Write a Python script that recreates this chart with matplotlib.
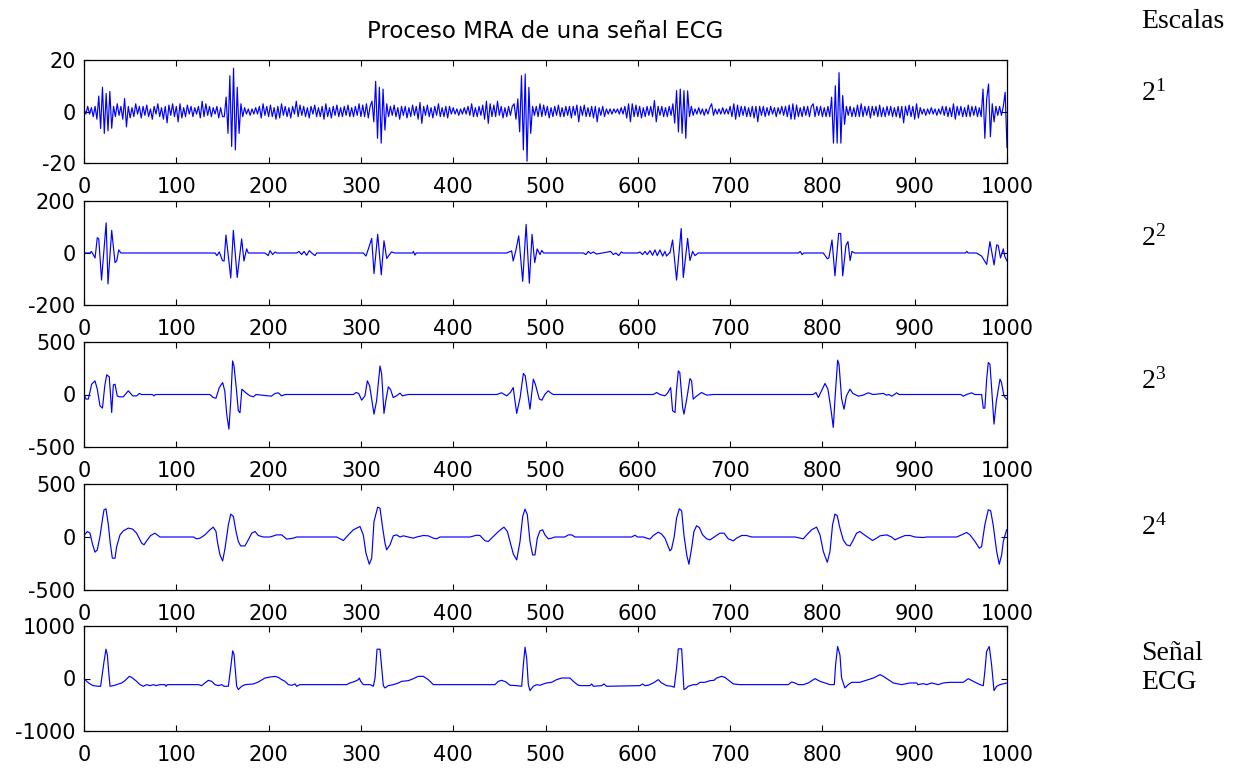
import numpy as np
import matplotlib
matplotlib.use("Agg")
import matplotlib.pyplot as plt

# ---------------------------------------------------------------
# Detail coefficients, scale 2^1 (one value every 2 samples)
# ---------------------------------------------------------------
d1_step = 2
d1_y = [
    1, -1, 2, -1, 1.5, -2, 2, -3, 6, -6.6, 9.4, -8.5, 7, -7.5, 7.8, -6.5, 2, -2, 3, -1.5,
    2, -3, 5, -6, 2, -2.5, 1.5, -2, 3, -1, 2, -2.5, 2, -1.5, 2.5, -2, 1, -3, 2, -1,
    3, -2, 1.5, -3, 2, -4.4, 2.5, -1.5, 3, -2, 2, -4, 3, -2.5, 1.5, -2, 2.5, -1, 2, -2,
    1.5, -1, 2, -2.5, 4, -2, 3, -1.5, 2, -2, 1.5, -1, 2, -2.5, 1.5, -2, -2, 5.6, -8.5, 13.9,
    -13.6, 16.8, -14.9, 9.4, -8.5, 3, -2, 1.5, -1, 1, -1.5, 1, -1, 1.5, -1, 2, -2.5, 3, -1.5, 2,
    -2, 2.5, -2, 1.5, -3, 2, -2.5, 3, -1.5, 2, -2, 1.5, -2.5, 2, -1, 4, -2, 2.5, -1.5, 2,
    -2, 1.5, -2.5, 2, -1, 2.5, -2, 1.5, -2, 2, -3, 3, -2, 1.5, -2.5, 2, -1.5, 2.5, -2, 1.5,
    -2, 2, -1.5, 2.5, -2, 1.5, -2, 2, -1.5, 3, -2, 2.5, -2, 3, -2.5, 2, 4, -4, 11.7, -10.4,
    9.4, -12.3, 8.7, -7.2, 3, -2, 2, -1.5, 2.5, -2, 1.5, -3, 2, -1.5, 2, -2.5, 1.5, -2, 2.5, -1.5,
    2, -3, 3.5, -4.6, 2, -1.5, 2.5, -2, 1.5, -2.5, 2, -1.5, 3, -2, 1.5, -2, 2, -2.5, 2, -1,
    1.5, -1, 1, -1.5, 1, -1, 1.5, -1, 2, -1.5, 3, -2, 1.5, -2, 2, -1.5, 2.5, -3, 4, -4.6,
    3, -2, 2.5, -2, 4, -1.5, 2, -2.5, 1.5, -2, 2, -1.5, 2, 3, -3, 4.9, -7.9, 13.9, -14.9, 14.5,
    -19.3, 9.4, -8.5, 2, -1.5, 2, -2, 3, -2, 2.5, -1.5, 2, -2.5, 1.5, -2, 2, -1.5, 2.5, -2, 1.5,
    -2, 2, -1.5, 2, -2.5, 2, -1.5, 2.5, -4, 2, -1.5, 2.5, -2, 1.5, -2, 2, -2.5, 2, -4, 1.5,
    -1.5, 2, -2, 1, -1, 1, -1, 1, -0.5, 1, -1, 1.5, -1, 2, -2.5, 3, -4, 3, -2, 2.5,
    -2, 2, -2.5, 1.5, -2, 2, -1.5, 2, -2, 4.3, -4, 2, -1.5, 2, -2, 1.5, -2, 2, -1.5, 3,
    -4.5, 8.1, -7.9, 8.7, -8.5, 8.1, -10.4, 8, -2, 2, -1.5, 1, -1, 1.5, -1, 1, -1.5, 1, -1, 1.5,
    3, -1.5, 1, -1, 1, -1, 1.5, -1, 1, -1, 2, -2, 3, -3, 2.5, -2, 2, -1.5, 2, -2,
    1.5, -2, 2, -2.5, 2, -4, 2, -1.5, 2, -2, 1.5, -1.5, 2, -1, 1.5, -2, 1.5, -1, 2, -1.5,
    2, -2, 2.5, -3, 3, -3, 2.5, -2, 1.5, -2, 2, -1.5, 2, -2, 2, 3, -2, 2, -1.5, 2,
    -2, 1.5, -2, 2, -2, 5.6, -12.3, 10, -12.3, 15.1, -12.3, 6.2, -5, 2, -1.5, 2, -2, 1.5, -2, 2.5,
    -2, 3, -2, 2, -1.5, 2, -2.5, 2, -1.5, 2, -2, 2.5, -2, 1.5, -2, 2, -1.5, 2, -2, 1.5,
    -2, 2, -2.5, 2, -4.4, 2, -1.5, 2.5, -2, 2, -3, 3, -2.5, 1.5, -1, 1, -1.5, 1, -1, 1.5,
    -1, 1, -1.5, 1, -1, 2, -1.5, 2, -2, 1.5, -2, 3, -3, 2, -1.5, 2, -2, 1.5, -2, 2.5,
    -2, 2, -1.5, 2, -2, 1.5, -2, 8.7, -10.4, 5, 10.7, -9.8, 3, -4, 2, -1.5, 2, -1.5, 2, 7.5,
    -14,
]
d1_x = np.arange(len(d1_y)) * d1_step

# ---------------------------------------------------------------
# Detail coefficients, scale 2^2
# ---------------------------------------------------------------
d2_x = [0, 6.5, 8, 10, 12, 14.4, 16, 19, 24, 26, 30, 33.6, 35.5, 37.6, 40,
        142, 144, 146.6, 150, 151.8, 153.8, 159, 161.8, 166, 170.8, 173.3, 176.2, 178,
        196, 199.7, 201.5, 204.4, 207, 209,
        230.4, 233, 235.8, 238.4, 241.2, 244.1, 247.4, 250.3, 252,
        302.6, 305.5, 308.4, 311.7, 314.2, 318.2, 322.1, 325, 328, 331.5, 333, 337,
        356, 357, 358.5, 360,
        458, 463.3, 465, 468, 471, 475.3, 479, 482.5, 485.4, 488.3, 491, 494, 496, 498,
        541, 543.8, 546.4, 549, 551.8, 555.4, 568, 570.6, 573.5, 576.3, 579.2, 582.1, 584.3,
        600, 602.3, 605.2, 607.8, 610.3, 613.2, 616, 618.6, 621.1, 624, 626.9, 629.4, 631.2, 634.1,
        634.8, 637.7, 642, 647, 649.3, 654, 656.5, 659.4, 662, 665.5,
        774, 776, 778, 780,
        801, 805.3, 807, 810.4, 813.6, 817.6, 819.8, 822, 825.5, 827.7, 830, 832, 835,
        955, 956.5, 958,
        967, 972.5, 978, 981.5, 986, 988.8, 990.5, 993, 996, 997.5, 1000]
d2_y = [0, 0, 6, -6, -19, 59, 54, -104, 116, -119, 87, -37, -30, 12, 0,
        0, -10, 4, -29, -31, 69, -96, 87, -94, 54, -31, 16, 0,
        0, -10, 9, -6, 4, 0,
        0, 6, -6, 6, -9, 9, -2, -10, 0,
        0, -12, 19, 56, -79, 72, -84, 47, -21, -4, 4, 0,
        0, 6, -8, 0,
        0, 8, -31, 12, 66, -109, 110, -116, 72, -37, 16, -6, 10, 0,
        0, -6, 6, -2, 4, -4, 4, 6, -6, 0, -10, 4, 0,
        0, 4, -6, 6, -6, 9, -9, 12, -10, 12, -12, 6, -12, 0,
        0, 50, -104, 94, -94, 56, -29, 6, -10, 0,
        0, 6, -6, 0,
        0, -22, -19, 50, -88, 75, 75, -88, 29, 44, -29, 6, 0,
        0, 6, 0,
        0, -12, -44, 44, -46, 31, 29, -19, 16, -12, -31]

# ---------------------------------------------------------------
# Detail coefficients, scale 2^3
# ---------------------------------------------------------------
d3_x = [0, 2.2, 4.7, 8.3, 11.9, 14.4, 17.3, 20, 22.5, 24.6, 27.4, 30, 31.8, 33.6, 36, 38.3,
        42.6, 48, 52.7, 57, 60, 62.5, 74, 75.8, 77.5,
        136.5, 140, 143, 146.6, 150.2, 152.5, 154.6, 157, 159, 161, 162.5, 165, 167.2, 169,
        171, 173, 176.2, 180, 183.5, 186.4, 203, 207, 210.5, 214, 217.8,
        291.8, 294.7, 297.6, 300.8, 304.4, 307, 309.5, 314.2, 317, 320.7, 322.5, 325, 327,
        329.7, 332, 335, 338.5, 342.4, 345, 348, 351.4,
        447, 452.5, 458, 462, 465, 468.8, 472.5, 476, 478, 483.2, 486.8, 489, 493.3, 496,
        499.5, 503, 505.5, 508.4,
        616.8, 620.4, 624, 629.4, 632, 635.6, 637.7, 640.3, 642, 643.9, 645.5, 648.6, 650,
        653, 656.5, 658.3, 660, 664, 669, 674.6, 678, 681.8,
        790, 793, 795.6, 799, 802.8, 806, 809, 811.8, 813.5, 816.5, 818, 820.8, 823.4, 826,
        829.9, 833, 839, 844, 849.7, 855, 866, 869.6, 872, 875, 878, 880.4, 883,
        950, 952.6, 956.3, 961.7, 965, 972.5, 974.3, 976, 978, 979.7, 981.5, 983.5, 985.9,
        988.5, 992.4, 994, 996.7, 999.6, 1000]
d3_y = [0, -44, -44, 98, 130, 50, -108, -130, 82, 187, 168, -171, 92, 98, -13, -22,
        -22, 35, -13, -13, 10, 0, 0, -13, 0,
        0, -29, -35, 66, 114, 35, -186, -330, -60, 320, 272, 60, -155, -174,
        50, 35, 10, -13, -22, 0, -16, 10, 16, -13, 0,
        0, 19, 10, -54, -13, 130, 82, -187, -60, 272, 194, -180, -60,
        73, 50, -29, -13, 13, -13, -6, 0,
        0, 16, -13, 20, 66, -180, -30, 200, 180, -140, 146, 98, -44, -54,
        3, 35, 16, 0,
        0, 19, 0, -13, 10, 66, -155, -171, 50, 225, 209, -124, -187,
        -44, 152, 130, -44, -13, 19, -6, -3, 0,
        0, 19, -29, 35, 105, 50, -124, -314, -60, 327, 288, -40, -140, -13,
        51, 10, -16, -6, 16, 0, 10, -6, 0, -16, 0, 16, 0,
        0, -16, 0, 16, 0, 0, -130, -130, 150, 304, 288, 40, -282,
        -60, 146, 115, -13, -44, -44]

# ---------------------------------------------------------------
# Detail coefficients, scale 2^4
# ---------------------------------------------------------------
d4_x = [0, 3.6, 6.5, 9.4, 11.9, 14.4, 17.3, 20.2, 21.7, 23.8, 26.4, 28.2, 30.7, 33.6, 35.4,
        39, 42.6, 48, 52.7, 57, 62.5, 65, 67.9, 72.2, 76.9, 82.3, 118.5, 122, 125.7, 131,
        136.5, 140, 143, 144.5, 147.3, 150.2, 152.8, 156.4, 159, 161.8, 164.7, 167.2, 169.7,
        174.4, 178, 181.7, 185.3, 188.9, 194.3, 201.5, 208.7, 214.2, 219.6, 226.8, 230.4,
        273.7, 281, 286.4, 291.8, 299, 302.6, 305.5, 309.1, 311.7, 314.2, 318.2, 320.7, 323.6,
        326.1, 327.9, 331.5, 335.1, 338.7, 342.4, 346, 351.4, 356.8, 360.4, 367.6, 373, 378.5,
        382, 385.7, 418.2, 425.4, 429, 434.5, 438, 443.5, 449, 455, 458.7, 461.5, 465.2, 468.8,
        472.4, 475.3, 477.8, 480.3, 483.2, 486.1, 488.6, 491.1, 494, 496.9, 499.4, 503, 506.6,
        510.3, 521, 524.7, 528.3, 532, 593.3, 597, 599.5, 606, 609.6, 613.2, 616.8, 622.2,
        625.8, 629.4, 634.8, 636.6, 639.5, 642, 645, 647.5, 650, 653, 655.4, 658.3, 660.8,
        663.7, 666.6, 670.2, 674.6, 678.2, 683.6, 689, 693.4, 698, 703.5, 707, 712.5, 718,
        723.3, 770.3, 779.3, 783, 788.3, 793.7, 797.4, 801, 805.3, 808.2, 811, 813.6, 816,
        819, 822.6, 826.2, 829.9, 833.5, 837, 840.7, 844.3, 849.7, 854.4, 858.7, 862.4, 869.6,
        875, 878.6, 884, 889.5, 894.9, 900.3, 909.3, 913, 945.4, 950.8, 956.3, 959.9, 965.3,
        970, 972.5, 976, 979.7, 982.3, 985, 988.8, 991.6, 994.2, 996, 999.6]
d4_y = [14, 52, 36, -74, -143, -121, 5, 178, 257, 266, 115, -42, -200, -200, -90,
        20, 58, 84, 74, 36, -58, -74, -36, 14, 36, 0, 0, -17, -11, 20,
        68, 93, 52, -42, -169, -226, -106, 115, 216, 194, 52, -42, -84,
        -84, -27, 36, 52, 14, 0, 0, 20, 20, -20, -11, 0,
        0, -33, 20, 68, 99, 20, -153, -257, -200, 147, 282, 272, 84,
        -58, -121, -74, 11, 20, 0, 11, 0, -11, 0, 14, 11, -11,
        -17, 0, 0, 17, 14, -36, -42, 5, 52, 93, 52, -42, -162, -216,
        -42, 194, 263, 210, -42, -169, -169, -11, 58, 68, 20, -17, -11,
        0, 0, 20, 20, 0, 0, 17, 0, 0, -11, -20, 14, 46,
        27, -11, -131, -112, 5, 178, 266, 247, 20, -169, -257, -106, 52,
        106, 90, 20, -17, -27, 5, 36, 36, -17, -36, -11, 14, 14,
        0, 0, -17, 20, 68, 93, 20, -137, -238, -137, 115, 216, 203,
        84, -27, -74, -84, -27, 36, 52, 27, -5, -33, -11, 11, 20,
        0, -27, -5, 14, 14, 0, -5, 0, 0, 20, 43, 20, -42,
        -106, -90, 115, 257, 247, 115, -137, -257, -169, -42, 68]

# ---------------------------------------------------------------
# ECG signal
# ---------------------------------------------------------------
ecg_x = [0, 2.9, 6.5, 10.1, 15.5, 18, 20.2, 21.7, 23.8, 25.3, 26.7, 28.2, 31.8, 35.4, 40.8,
         44.4, 49.1, 51.6, 57, 60.7, 64.3, 67.9, 71.5, 75.1, 78, 82.3, 87.8, 88.8, 90.3,
         123.9, 127.5, 131, 134.7, 138.3, 141.9, 145.5, 149.2, 151.7, 156.4, 158.9, 161.1,
         162.5, 164.3, 165.4, 167.2, 170.8, 174.4, 183.5, 188.9, 196.1, 199.7, 206.9, 210.5,
         214.2, 217.8, 221.4, 225, 228.6, 230.4, 234, 284.6, 288.2, 293.6, 297.2, 298.3,
         299.8, 302.6, 309.9, 313.5, 315.3, 317.5, 320.7, 322.5, 324.3, 326.1, 329.7, 335.1,
         340.6, 344.2, 351.4, 356.8, 362.2, 367.6, 373, 378.5, 392.9, 445.3, 448.9, 452.5,
         457.2, 461.5, 468.8, 474.2, 476, 477.8, 479.6, 481.4, 483.2, 486.8, 490.4, 494,
         497.6, 501.2, 506.6, 512, 517.5, 526.5, 530.1, 535.5, 539.1, 548.2, 550, 551.8,
         560.8, 563.3, 566.2, 602.3, 605.2, 607.8, 611.4, 616.8, 622.2, 625.8, 631.2, 636.6,
         639.5, 642, 643.9, 647.5, 650, 652, 654.7, 660.1, 664, 667.3, 672.8, 678.2, 682.5,
         685.4, 690.8, 694.4, 699.8, 703.5, 710.7, 763, 766.7, 770.3, 773.9, 779.3, 784.7,
         792, 797.4, 802.8, 808.2, 812.9, 814.3, 816.5, 819, 820.8, 824.4, 828, 831.7, 840.7,
         846.1, 849.7, 855.1, 862.4, 866, 871.4, 876.8, 882.2, 885.8, 894.9, 902, 903.5,
         909.3, 913, 918.3, 925.6, 931, 938.2, 952.6, 958, 963.5, 970.7, 974.3, 976, 977.9,
         980.8, 983.3, 985.9, 988.8, 992.4, 999.6, 1000]
ecg_y = [-3, -54, -104, -136, -148, -148, 136, 325, 558, 451, 136, -148, -136, -117, -85,
         -41, 41, 22, -54, -117, -148, -117, -136, -117, -136, -117, -117, -148, -117,
         -117, -136, -85, -35, -54, -117, -136, -117, -148, -148, 200, 527,
         464, 73, -148, -211, -148, -117, -104, -66, 9, 22, 41, 22,
         -22, -54, -117, -129, -104, -148, -117, -117, -85, -54, -22, 9,
         -54, -117, -117, -148, 9, 558, 558, 199, -136, -180, -136, -117,
         -85, -54, -41, -3, 41, 41, -22, -117, -117, -117, -54, -35,
         -66, -129, -136, -148, 262, 596, 388, -117, -230, -148, -117, -129,
         -104, -85, -73, -22, 9, 9, -54, -129, -136, -136, -104, -148,
         -136, -104, -148, -136, -104, -136, -129, -85, -22, -85, -136, -148,
         -167, 200, 565, 565, -211, -192, -148, -117, -117, -73, -73, -41, -35,
         9, 41, 22, -54, -104, -117, -117, -66, -85, -117, -117, -85,
         -3, -54, -85, -117, -117, 262, 609, 451, 9, -180, -117, -73, -73,
         -41, -22, 9, 73, 41, -22, -85, -104, -117, -85, -85, -117,
         -98, -117, -85, -117, -85, -73, -73, -3, -54, -117, -136, 136, 514,
         609, 262, -230, -148, -117, -85, -85]

series = [
    (d1_x, d1_y, [-20, 0, 20]),
    (d2_x, d2_y, [-200, 0, 200]),
    (d3_x, d3_y, [-500, 0, 500]),
    (d4_x, d4_y, [-500, 0, 500]),
    (ecg_x, ecg_y, [-1000, 0, 1000]),
]
scale_labels = [r"$\mathregular{2^{1}}$", r"$\mathregular{2^{2}}$",
                r"$\mathregular{2^{3}}$", r"$\mathregular{2^{4}}$", "Señal\nECG"]
x_ticks = list(range(0, 1001, 100))

plt.rcParams["font.family"] = ["DejaVu Sans"]
plt.rcParams["axes.unicode_minus"] = False

W, H = 1250, 768
fig = plt.figure(figsize=(W / 100, H / 100), dpi=100)

# panel rectangles in pixels: (top, bottom)
rows_px = [(60, 163), (201, 305), (342, 447), (484, 590), (626, 731)]
left_px, right_px = 84, 1007

for (top, bot), (xs, ys, yt) in zip(rows_px, series):
    ax = fig.add_axes([left_px / W, 1 - bot / H, (right_px - left_px) / W, (bot - top) / H])
    ax.plot(xs, ys, color="#0000FF", lw=0.85)
    ax.set_xlim(0, 1000)
    ax.set_ylim(yt[0], yt[-1])
    ax.set_xticks(x_ticks)
    ax.set_yticks(yt)
    ax.tick_params(direction="in", length=4.5, width=0.8, top=True, right=True,
                   labelsize=15, colors="black")
    ax.tick_params(axis="x", pad=10)
    ax.tick_params(axis="y", pad=6)
    for sp in ax.spines.values():
        sp.set_linewidth(0.9)
        sp.set_color("black")

fig.text((left_px + right_px) / 2 / W, 1 - 32 / H, "Proceso MRA de una señal ECG",
         ha="center", va="center", fontsize=16.5)

serif = ["Liberation Serif", "DejaVu Serif"]
fig.text(1141 / W, 1 - 22 / H, "Escalas", ha="left", va="center", fontsize=20, family=serif)
label_y = [93, 238, 381, 527, 668]
for lab, yy in zip(scale_labels, label_y):
    fig.text(1141 / W, 1 - yy / H, lab, ha="left", va="center", fontsize=20,
             family=serif, linespacing=1.25)

fig.savefig("out.png", dpi=100)
